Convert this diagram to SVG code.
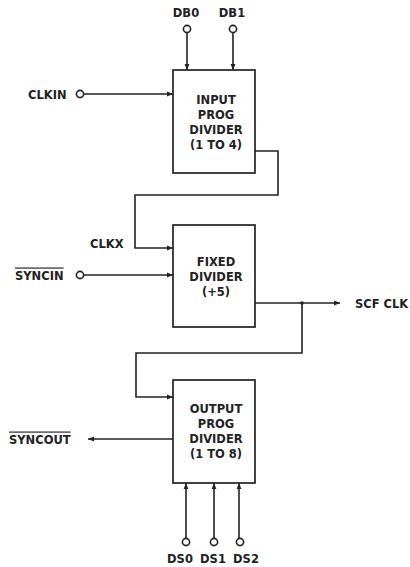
<svg xmlns="http://www.w3.org/2000/svg" width="410" height="567" viewBox="0 0 410 567">
<defs>
<marker id="ah" viewBox="0 0 10 10" refX="10" refY="5" markerWidth="7" markerHeight="6" markerUnits="userSpaceOnUse" orient="auto"><path d="M0,1 L10,5 L0,9 z" fill="#222"/></marker>
<style>
.box{fill:#fff;stroke:#222;stroke-width:1.7}
.ln{fill:none;stroke:#222;stroke-width:1.6}
.pin{fill:#fff;stroke:#222;stroke-width:1.6}
.lbl{font-family:"DejaVu Sans",sans-serif;font-weight:bold;font-size:11.5px;fill:#222}
.bt{font-family:"DejaVu Sans",sans-serif;font-weight:bold;font-size:11.5px;fill:#222;text-anchor:middle}
</style>
</defs>
<rect width="410" height="567" fill="#fff"/>
<g id="connectors">
<path class="ln" d="M187,33 V70" marker-end="url(#ah)"/>
<path class="ln" d="M233,33 V70" marker-end="url(#ah)"/>
<path class="ln" d="M84,94 H173" marker-end="url(#ah)"/>
<path class="ln" d="M255,151 H278 V195 H135 V248 H173" marker-end="url(#ah)"/>
<path class="ln" d="M84,275 H173" marker-end="url(#ah)"/>
<path class="ln" d="M255,303 H340" marker-end="url(#ah)"/>
<path class="ln" d="M302,303 V353 H136 V397 H173" marker-end="url(#ah)"/>
<circle cx="302" cy="303" r="1.8" fill="#222"/>
<path class="ln" d="M173,439 H88" marker-end="url(#ah)"/>
<path class="ln" d="M186,538 V483" marker-end="url(#ah)"/>
<path class="ln" d="M214,538 V483" marker-end="url(#ah)"/>
<path class="ln" d="M239,538 V483" marker-end="url(#ah)"/>
</g>
<g id="input-divider">
<rect class="box" x="173" y="70" width="82" height="103"/>
<text class="bt" x="216" y="104">INPUT</text>
<text class="bt" x="216" y="119">PROG</text>
<text class="bt" x="216" y="134">DIVIDER</text>
<text class="bt" x="216" y="149">(1 TO 4)</text>
</g>
<g id="fixed-divider">
<rect class="box" x="173" y="225" width="82" height="102"/>
<text class="bt" x="216" y="266">FIXED</text>
<text class="bt" x="216" y="281">DIVIDER</text>
<text class="bt" x="216" y="296">(+5)</text>
</g>
<g id="output-divider">
<rect class="box" x="173" y="380" width="82" height="103"/>
<text class="bt" x="216" y="413">OUTPUT</text>
<text class="bt" x="216" y="428">PROG</text>
<text class="bt" x="216" y="443">DIVIDER</text>
<text class="bt" x="216" y="458">(1 TO 8)</text>
</g>
<g id="db0"><circle class="pin" cx="187" cy="29" r="3.6"/><text class="lbl" x="186" y="17" text-anchor="middle">DB0</text></g>
<g id="db1"><circle class="pin" cx="233" cy="29" r="3.6"/><text class="lbl" x="232" y="17" text-anchor="middle">DB1</text></g>
<g id="clkin"><circle class="pin" cx="80" cy="94" r="3.6"/><text class="lbl" x="28" y="98.5">CLKIN</text></g>
<g id="clkx"><text class="lbl" x="90" y="248">CLKX</text></g>
<g id="syncin"><circle class="pin" cx="80" cy="275" r="3.6"/><text class="lbl" x="15" y="279.5" text-decoration="overline">SYNCIN</text></g>
<g id="scfclk"><text class="lbl" x="355" y="307.5">SCF CLK</text></g>
<g id="syncout"><text class="lbl" x="9" y="443.5" text-decoration="overline">SYNCOUT</text></g>
<g id="ds0"><circle class="pin" cx="186" cy="542" r="3.6"/><text class="lbl" x="180" y="563" text-anchor="middle">DS0</text></g>
<g id="ds1"><circle class="pin" cx="214" cy="542" r="3.6"/><text class="lbl" x="213" y="563" text-anchor="middle">DS1</text></g>
<g id="ds2"><circle class="pin" cx="240" cy="542" r="3.6"/><text class="lbl" x="246" y="563" text-anchor="middle">DS2</text></g>
</svg>
